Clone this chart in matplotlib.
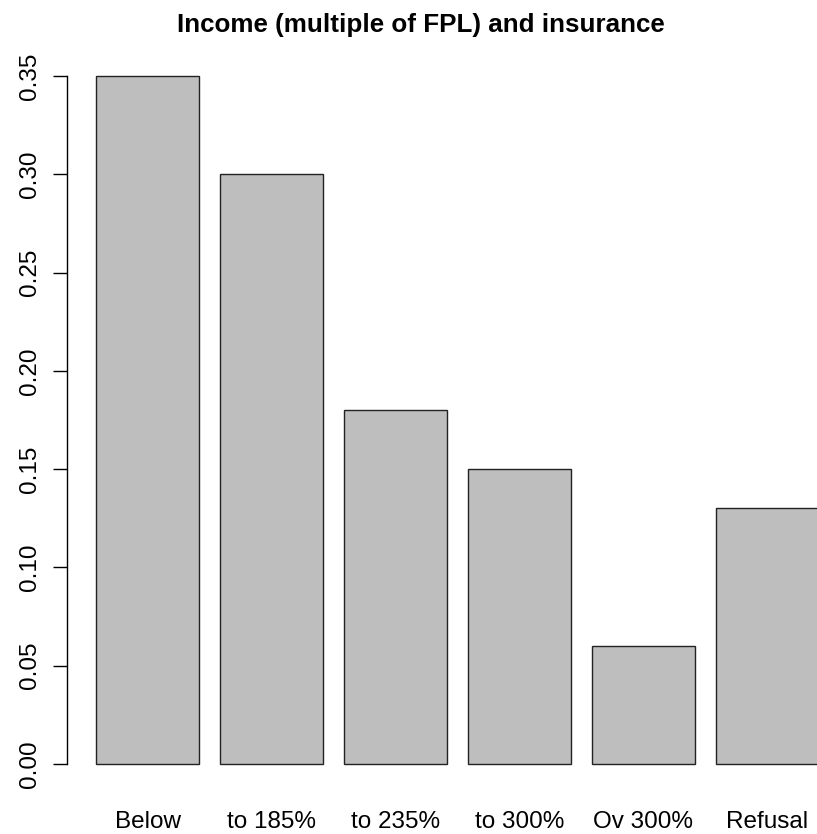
import numpy as np
import matplotlib.pyplot as plt

plt.rcParams['font.family'] = ['Liberation Sans', 'DejaVu Sans']

# Data
categories = ["Below", "to 185%", "to 235%", "to 300%", "Ov 300%", "Refusal"]
values = [0.35, 0.30, 0.18, 0.15, 0.06, 0.13]
yticks = [0.00, 0.05, 0.10, 0.15, 0.20, 0.25, 0.30, 0.35]

fig = plt.figure(figsize=(8.17, 8.34), dpi=100)
# axes placed so that the plot region matches an R barplot
ax = fig.add_axes([67 / 817, 42.5 / 834, 750 / 817, 743 / 834])

# R style positions: width 1, space 0.2
x = 0.2 + np.arange(len(values)) * 1.2 + 0.5
ax.bar(x, values, width=1.0, color="#bebebe", edgecolor="#222222", linewidth=1.0)

ax.set_xlim(-0.08, -0.08 + 750 / 103.3)
ax.set_ylim(-0.014, 0.364)

for s in ["top", "right", "bottom"]:
    ax.spines[s].set_visible(False)
ax.spines["left"].set_bounds(0, 0.35)
ax.spines["left"].set_linewidth(1.0)

ax.set_yticks(yticks)
ax.set_yticklabels([f"{v:.2f}" for v in yticks], rotation=90, va="center", fontsize=17.5)
ax.tick_params(axis="y", length=10, width=1.0, pad=8.5)

ax.set_xticks(x)
ax.set_xticklabels(categories, fontsize=17.5)
ax.tick_params(axis="x", length=0, pad=14)

fig.text(421 / 817, 1 - 25 / 834, "Income (multiple of FPL) and insurance",
         ha="center", va="center", fontsize=18.7, fontweight="bold")

fig.savefig("out.png", dpi=100)
